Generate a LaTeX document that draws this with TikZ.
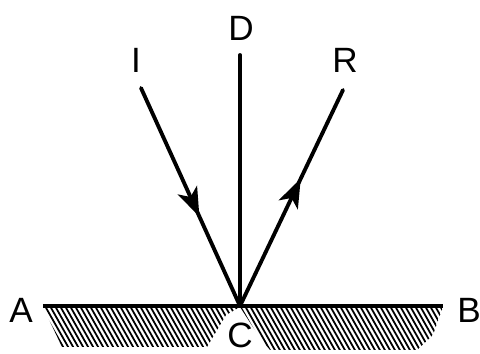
\documentclass[tikz,border=0pt]{standalone}
\usepackage{fontspec}
\setmainfont{Liberation Sans}
\usetikzlibrary{arrows.meta,decorations.markings}
\begin{document}
\begin{tikzpicture}[
      every node/.style={font=\fontsize{20}{24}\selectfont, inner sep=0pt},
      ray/.style={line width=2.2pt, line cap=round},
      surface/.style={line width=2.6pt},
      hatch/.style={line width=1pt},
      midarrow/.style={postaction={decorate, decoration={markings,
          mark=at position #1 with {\arrow{Stealth[length=5.8mm, width=4.2mm, inset=1.5mm]}}}}},
    ]
    \useasboundingbox (0,0) rectangle (9.6,7.08);

    % --- points ---
    \coordinate (C) at (4.8,0.96);
    \coordinate (Aend) at (0.86,0.96);
    \coordinate (Bend) at (8.86,0.96);
    \coordinate (Dtop) at (4.8,5.98);
    \coordinate (Istart) at (2.82,5.32);
    \coordinate (Rend) at (6.86,5.28);

    % --- labels ---
    \node (labA) at (0.42,0.88) {A};
    \node (labB) at (9.38,0.88) {B};
    \node (labC) at (4.8,0.38) {C};
    \node (labD) at (4.82,6.52) {D};
    \node (labI) at (2.72,5.88) {I};
    \node (labR) at (6.9,5.88) {R};

    % --- hatching below the mirror ---
    \begin{scope}
      \clip (0.86,0.94) -- (4.8,0.94) -- (4.52,0.78) -- (4.14,0.14) -- (1.24,0.14) -- cycle
            (4.8,0.94) -- (8.86,0.94) -- (8.8,0.78) -- (8.66,0.38) -- (8.34,0.08)
            -- (5.4,0.08) -- (5.2,0.32) -- cycle;
      \foreach \x in {0.2,0.3,...,9.0} {
        \draw[hatch] (\x,0.96) -- ++(0.52,-0.92);
      }
    \end{scope}

    % --- mirror, normal and rays ---
    \draw[surface] (Aend) -- (Bend);
    \draw[ray] (C) -- (Dtop);
    \draw[ray, midarrow=0.59] (Istart) -- (C);
    \draw[ray, midarrow=0.59] (C) -- (Rend);
  \end{tikzpicture}
\end{document}
